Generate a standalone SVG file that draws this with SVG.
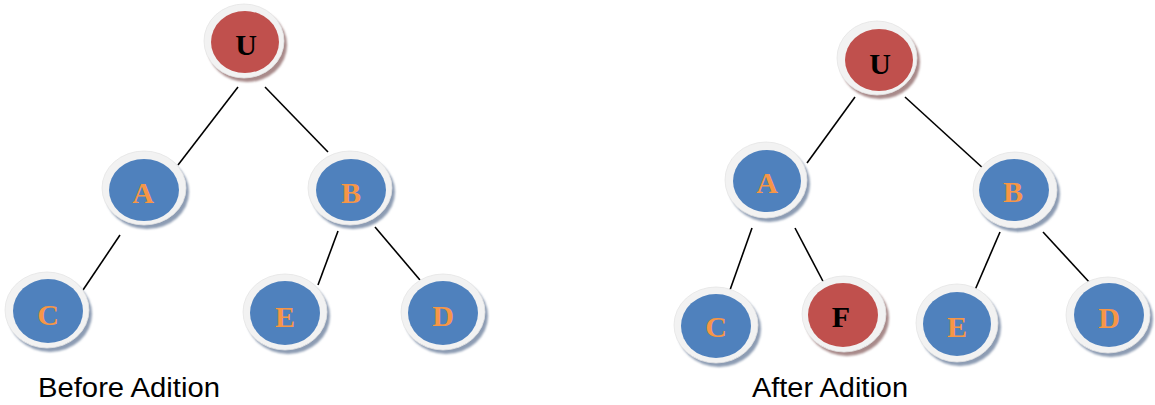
<svg xmlns="http://www.w3.org/2000/svg" width="1155" height="405" viewBox="0 0 1155 405">
  <style>
    .edge { stroke: #000; stroke-width: 1.6; fill: none; }
    .ring { fill: #f2f2f2; stroke: #e4e4e4; stroke-width: 0.8; }
    .sh-blue { fill: #8d9cb3; }
    .sh-red { fill: #a88a8a; }
    .blue { fill: #4f81bd; }
    .red { fill: #c0504d; }
    .lbl { font-family: "Liberation Serif", "Times New Roman", serif; font-weight: bold; font-size: 30px; text-anchor: middle; }
    .lbl-o { fill: #f79646; }
    .lbl-k { fill: #000; }
    .cap { font-family: "Liberation Sans", Arial, sans-serif; font-size: 27px; fill: #000; }
  </style>
  <defs>
    <filter id="soft" x="-20%" y="-20%" width="140%" height="140%">
      <feGaussianBlur stdDeviation="1"/>
    </filter>
  </defs>

  <g id="connectors">
    <!-- left tree -->
    <line class="edge" x1="238" y1="87" x2="178" y2="165"/>
    <line class="edge" x1="265" y1="87" x2="328" y2="152"/>
    <line class="edge" x1="120" y1="235" x2="83" y2="290"/>
    <line class="edge" x1="338" y1="231" x2="318" y2="285"/>
    <line class="edge" x1="375" y1="227" x2="420" y2="280"/>
    <!-- right tree -->
    <line class="edge" x1="855" y1="97" x2="807" y2="163"/>
    <line class="edge" x1="905" y1="97" x2="985" y2="170"/>
    <line class="edge" x1="752" y1="228" x2="730" y2="290"/>
    <line class="edge" x1="795" y1="228" x2="826" y2="287"/>
    <line class="edge" x1="1000" y1="232" x2="975" y2="290"/>
    <line class="edge" x1="1043" y1="232" x2="1090" y2="283"/>
  </g>

  <!-- left tree nodes -->
  <g id="left-U">
    <ellipse class="sh-red" filter="url(#soft)" cx="247" cy="45" rx="40" ry="37"/>
    <ellipse class="ring" cx="244" cy="41" rx="40" ry="37"/>
    <ellipse class="red" cx="245" cy="42" rx="34" ry="31"/>
    <text class="lbl lbl-k" x="246" y="55">U</text>
  </g>
  <g id="left-A">
    <ellipse class="sh-blue" filter="url(#soft)" cx="147" cy="192" rx="42" ry="37"/>
    <ellipse class="ring" cx="144" cy="188" rx="42" ry="37"/>
    <ellipse class="blue" cx="144" cy="190" rx="35" ry="31"/>
    <text class="lbl lbl-o" x="143" y="203">A</text>
  </g>
  <g id="left-B">
    <ellipse class="sh-blue" filter="url(#soft)" cx="353" cy="192" rx="42" ry="37"/>
    <ellipse class="ring" cx="350" cy="188" rx="42" ry="37"/>
    <ellipse class="blue" cx="351" cy="190" rx="35" ry="31"/>
    <text class="lbl lbl-o" x="351" y="203">B</text>
  </g>
  <g id="left-C">
    <ellipse class="sh-blue" filter="url(#soft)" cx="50" cy="314" rx="42" ry="38"/>
    <ellipse class="ring" cx="47" cy="310" rx="42" ry="38"/>
    <ellipse class="blue" cx="48" cy="311" rx="35" ry="32"/>
    <text class="lbl lbl-o" x="48" y="325">C</text>
  </g>
  <g id="left-E">
    <ellipse class="sh-blue" filter="url(#soft)" cx="288" cy="316" rx="42" ry="38"/>
    <ellipse class="ring" cx="285" cy="312" rx="42" ry="38"/>
    <ellipse class="blue" cx="285" cy="313" rx="35" ry="32"/>
    <text class="lbl lbl-o" x="285" y="327">E</text>
  </g>
  <g id="left-D">
    <ellipse class="sh-blue" filter="url(#soft)" cx="446" cy="316" rx="42" ry="38"/>
    <ellipse class="ring" cx="443" cy="312" rx="42" ry="38"/>
    <ellipse class="blue" cx="443" cy="313" rx="35" ry="32"/>
    <text class="lbl lbl-o" x="443" y="326">D</text>
  </g>

  <!-- right tree nodes -->
  <g id="right-U">
    <ellipse class="sh-red" filter="url(#soft)" cx="880" cy="62" rx="40" ry="37"/>
    <ellipse class="ring" cx="877" cy="58" rx="40" ry="37"/>
    <ellipse class="red" cx="879" cy="60" rx="34" ry="31"/>
    <text class="lbl lbl-k" x="880" y="74">U</text>
  </g>
  <g id="right-A">
    <ellipse class="sh-blue" filter="url(#soft)" cx="769" cy="184" rx="41" ry="38"/>
    <ellipse class="ring" cx="766" cy="180" rx="41" ry="38"/>
    <ellipse class="blue" cx="767" cy="181" rx="34" ry="31"/>
    <text class="lbl lbl-o" x="767" y="193">A</text>
  </g>
  <g id="right-B">
    <ellipse class="sh-blue" filter="url(#soft)" cx="1018" cy="194" rx="42" ry="38"/>
    <ellipse class="ring" cx="1015" cy="190" rx="42" ry="38"/>
    <ellipse class="blue" cx="1014" cy="190" rx="35" ry="31"/>
    <text class="lbl lbl-o" x="1013" y="202">B</text>
  </g>
  <g id="right-C">
    <ellipse class="sh-blue" filter="url(#soft)" cx="719" cy="329" rx="42" ry="38"/>
    <ellipse class="ring" cx="716" cy="325" rx="42" ry="38"/>
    <ellipse class="blue" cx="716" cy="326" rx="35" ry="32"/>
    <text class="lbl lbl-o" x="716" y="337">C</text>
  </g>
  <g id="right-F">
    <ellipse class="sh-red" filter="url(#soft)" cx="847" cy="318" rx="42" ry="38"/>
    <ellipse class="ring" cx="844" cy="314" rx="42" ry="38"/>
    <ellipse class="red" cx="843" cy="315" rx="35" ry="32"/>
    <text class="lbl lbl-k" x="841" y="327">F</text>
  </g>
  <g id="right-E">
    <ellipse class="sh-blue" filter="url(#soft)" cx="960" cy="327" rx="41" ry="39"/>
    <ellipse class="ring" cx="957" cy="323" rx="41" ry="39"/>
    <ellipse class="blue" cx="957" cy="324" rx="34" ry="32"/>
    <text class="lbl lbl-o" x="957" y="337">E</text>
  </g>
  <g id="right-D">
    <ellipse class="sh-blue" filter="url(#soft)" cx="1111" cy="319" rx="42" ry="38"/>
    <ellipse class="ring" cx="1108" cy="315" rx="42" ry="38"/>
    <ellipse class="blue" cx="1109" cy="315" rx="35" ry="32"/>
    <text class="lbl lbl-o" x="1109" y="328">D</text>
  </g>

  <!-- captions -->
  <text class="cap" x="38" y="397" textLength="182" lengthAdjust="spacingAndGlyphs">Before Adition</text>
  <text class="cap" x="752" y="397" textLength="156" lengthAdjust="spacingAndGlyphs">After Adition</text>
</svg>
